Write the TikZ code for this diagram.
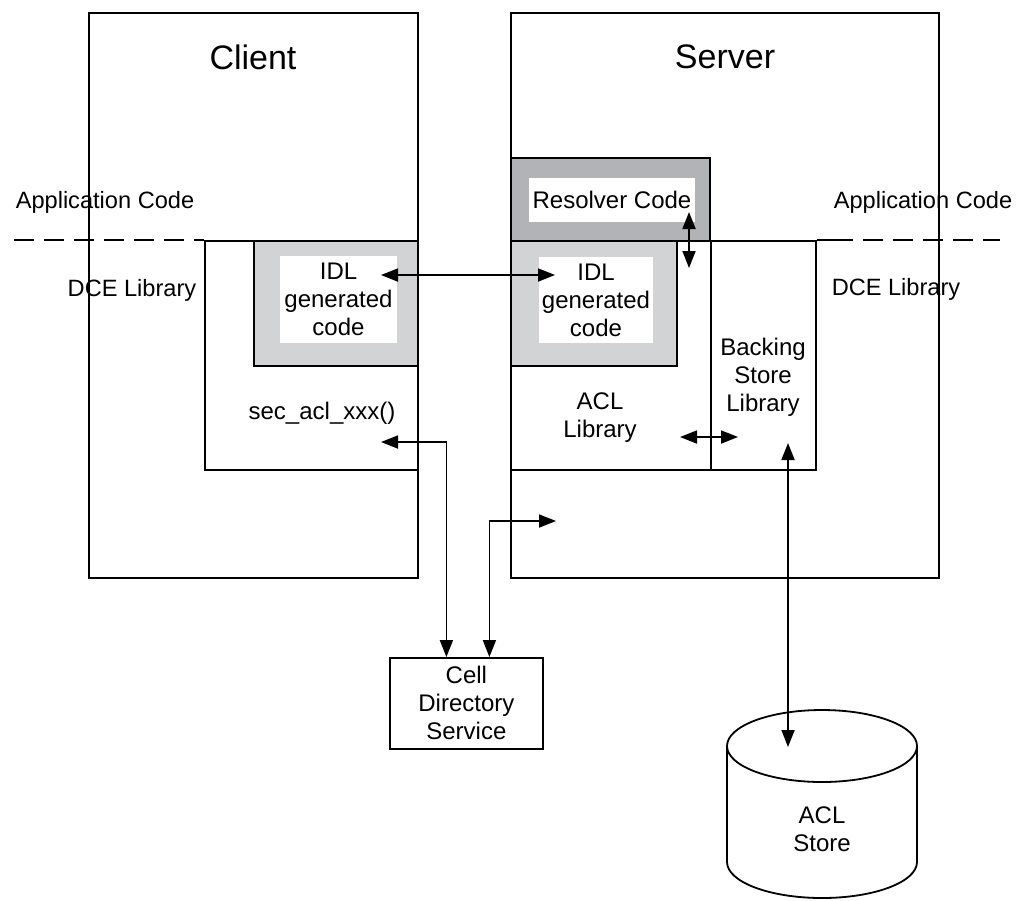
\documentclass[tikz,border=0pt]{standalone}
\usepackage{fontspec}
\setmainfont{Liberation Sans}
\usetikzlibrary{positioning,arrows.meta,calc}
\definecolor{darkgr}{RGB}{178,179,182}
\definecolor{lightgr}{RGB}{209,211,212}
\newcommand{\px}{0.5pt}

\begin{document}
\begin{tikzpicture}[x=0.5pt,y=-0.5pt,>={Triangle[length=8.5pt,width=6.5pt]},
    line width=0.9pt,
    box/.style={draw,inner sep=0pt,anchor=north west},
    inbox/.style={fill=white,inner sep=0pt,align=center,
      font=\fontsize{12}{14}\selectfont},
    lbl/.style={inner sep=0pt,align=center,font=\fontsize{12}{14}\selectfont},
    side/.style={inner sep=0pt,font=\fontsize{11.8}{14}\selectfont},
    title/.style={inner sep=0pt,font=\fontsize{17}{20}\selectfont},
    sep/.style={dash pattern=on 10pt off 5pt}]
  \useasboundingbox (0,0) rectangle (1026,900);

  % client and server
  \node[box,minimum width={329*\px},minimum height={565*\px}] (cli) at (88,12) {};
  \node[box,minimum width={428*\px},minimum height={565*\px}] (srv) at (510,12) {};
  \node[title] (clit) at (253,57) {Client};
  \node[title] (srvt) at (725,57) {Server};

  % DCE library boxes
  \node[box,minimum width={213*\px},minimum height={229*\px}] (clidce) at (204,240) {};
  \node[box,minimum width={305*\px},minimum height={229*\px}] (srvdce) at (510,240) {};

  % generated code and resolver
  \node[box,fill=lightgr,minimum width={164*\px},minimum height={125*\px}] (cligen) at (253,240) {};
  \node[box,fill=lightgr,minimum width={166*\px},minimum height={125*\px}] (srvgen) at (510,240) {};
  \node[box,fill=darkgr,minimum width={199*\px},minimum height={83*\px}] (rslv) at (510,157) {};
  \node[inbox,minimum width={117*\px},minimum height={87*\px}] (cliidl) at (338.5,299.5) {IDL\\generated\\code};
  \node[inbox,minimum width={114*\px},minimum height={86*\px}] (srvidl) at (596,300) {IDL\\generated\\code};
  \node[inbox,minimum width={166*\px},minimum height={44*\px}] (rslvt) at (612,200) {Resolver Code};
  \draw (rslv.south east) -- (rslv.south east |- srvdce.south);

  % layer separators
  \draw[sep] (14,240) -- (clidce.north west);
  \draw (srvdce.north east) -- (833,240);
  \draw[sep] (833,240) -- (1000,240);
  \node[side] (appl) at (105,202) {Application Code};
  \node[side] (appr) at (923,202) {Application Code};
  \node[side] (dcel) at (132,290) {DCE Library};
  \node[side] (dcer) at (896,289) {DCE Library};

  \node[lbl] (sec) at (322,413) {sec\_acl\_xxx()};
  \node[lbl] (acllib) at (600,418) {ACL\\Library};
  \node[lbl] (bsl) at (763,377) {Backing\\Store\\Library};

  % cell directory service
  \node[box,lbl,minimum width={153*\px},minimum height={91*\px}] (cds) at (389,657) {Cell\\Directory\\Service};

  % acl store
  \draw (822,746) ellipse [x radius=95,y radius=36];
  \draw (727,746) -- (727,862) arc[start angle=180,end angle=0,x radius=95,y radius=36] -- (917,746);
  \node[lbl] (store) at (822,829) {ACL\\Store};

  % connectors
  \coordinate (p1) at (381,275);
  \coordinate (p2) at (555,275);
  \coordinate (p3) at (381,442);
  \coordinate (p4) at (556,521);
  \coordinate (p5) at (689,212);
  \coordinate (p6) at (689,268);
  \coordinate (p7) at (680,437);
  \coordinate (p8) at (738,437);
  \coordinate (p9) at (788,443);
  \coordinate (p10) at (788,747);
  \draw[<->] (p1) -- (p2);
  \draw[<->] (p3) -| ($(cds.north)+(-20,0)$);
  \draw[<->] ($(cds.north)+(23,0)$) |- (p4);
  \draw[<->] (p5) -- (p6);
  \draw[<->] (p7) -- (p8);
  \draw[<->] (p9) -- (p10);
\end{tikzpicture}
\end{document}
